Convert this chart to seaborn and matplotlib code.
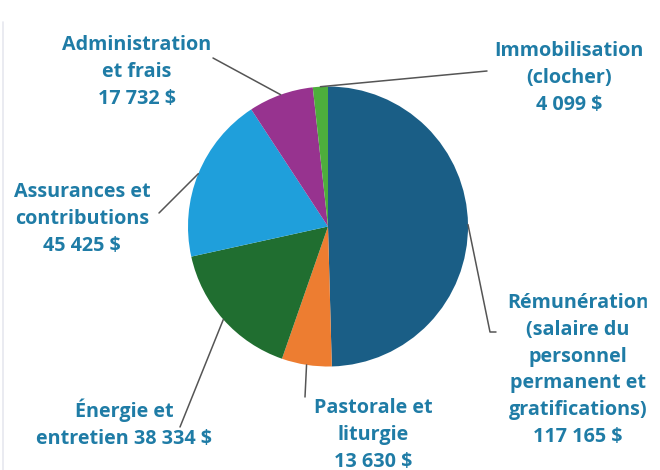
import numpy as np
import matplotlib
matplotlib.use("Agg")
import matplotlib.pyplot as plt
import seaborn as sns

# budget categories, clockwise from the top
names = ["Rémunération\n(salaire du\npersonnel\npermanent et\ngratifications)",
         "Pastorale et\nliturgie",
         "Énergie et\nentretien",
         "Assurances et\ncontributions",
         "Administration\net frais",
         "Immobilisation\n(clocher)"]
amounts = [117165, 13630, 38334, 45425, 17732, 4099]
amount_sep = ["\n", "\n", " ", "\n", "\n", "\n"]
colors = ["#1a5e86", "#ed7d31", "#206e30", "#1f9fdb", "#97338f", "#4dae3c"]

# label layout (pixels from top-left)
label_xy = [(578, 370), (373, 435), (124, 424), (82, 219), (137, 72), (569, 78)]
line_end = [[(490, 332), (496, 332)], [(305, 397)], [(180, 427)],
            [(159, 213)], [(213, 58)], [(487, 71)]]

W, H = 660, 470
CX, CY, R = 328, 226.5, 140
TEXT_C = "#1f7ca6"


def fmt_amount(v):
    return f"{v:,}".replace(",", " ") + " $"


sns.set_theme(style="white")
plt.rcParams["font.family"] = ["Open Sans", "DejaVu Sans"]

fig = plt.figure(figsize=(W / 100, H / 100), dpi=100)
ax = fig.add_axes([0, 0, 1, 1])
# y axis is flipped below, so counterclock in data = clockwise on screen
wedges, _ = ax.pie(amounts, colors=colors, startangle=-90, counterclock=True,
                   center=(CX, CY), radius=R, wedgeprops=dict(linewidth=0))
ax.set_xlim(0, W)
ax.set_ylim(H, 0)
ax.set_aspect("equal")
ax.axis("off")

for w, name, v, sep, (tx, ty), ends in zip(wedges, names, amounts, amount_sep,
                                           label_xy, line_end):
    mid = np.deg2rad((w.theta1 + w.theta2) / 2)
    sx, sy = CX + R * np.cos(mid), CY + R * np.sin(mid)
    xs = [sx] + [p[0] for p in ends]
    ys = [sy] + [p[1] for p in ends]
    ax.plot(xs, ys, color="#555555", lw=1.1, zorder=3)
    ax.text(tx, ty, name + sep + fmt_amount(v), ha="center", va="center",
            multialignment="center", fontsize=14.2, fontweight="bold",
            color=TEXT_C, linespacing=1.46, zorder=4)

# the screenshot cuts the slide off on the right
ax.add_patch(plt.Rectangle((647, 0), W - 647, H, color="white", zorder=10))
# faint frame edge on the left
ax.plot([3, 3], [22, H], color="#e6e8ef", lw=1.2)

fig.savefig("out.png", dpi=100)
